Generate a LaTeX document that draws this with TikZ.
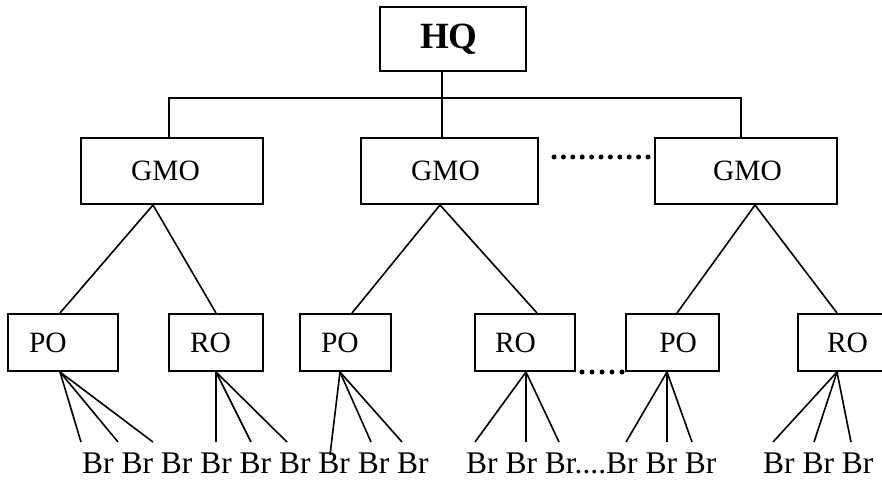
\documentclass[tikz,border=0pt]{standalone}
\usepackage{fontspec}
\setmainfont{Liberation Serif}
\usepackage{tikz}
\usetikzlibrary{positioning}
\tikzset{
  office/.style={rectangle, draw, line width=2pt, align=left, inner xsep=21pt,
    minimum height=57pt, font=\fontsize{29.5}{34}\selectfont},
  gmo/.style={office, minimum height=66pt, inner xsep=50pt},
  link/.style={draw, line width=1.6pt},
  dotrow/.style={line width=5pt, line cap=round, dash pattern=on 0pt off #1},
  brrow/.style={anchor=base west, inner sep=0pt, font=\fontsize{31.5}{36}\selectfont}
}

\begin{document}
\begin{tikzpicture}[x=1pt,y=-1pt]
    \useasboundingbox (0,0) rectangle (882,483);
    % Place nodes
    \node[office, minimum height=64pt, inner xsep=40pt, text width=66pt,
      font=\fontsize{37}{44}\selectfont\bfseries] (hq) at (453,39) {HQ};

    \node[gmo, text width=82pt] (gmoA) at (172,171) {GMO};
    \node[gmo, text width=77pt] (gmoB) at (449.5,171) {GMO};
    \node[gmo, inner xsep=58pt, text width=66pt] (gmoC) at (746,171) {GMO};

    \node[office, text width=68pt] (poA) at (63,342.5) {PO};
    \node[office, text width=52pt] (roA) at (216,342.5) {RO};
    \node[office, text width=49pt] (poB) at (345.5,342.5) {PO};
    \node[office, inner xsep=20pt, text width=60pt] (roB) at (525,342.5) {RO};
    \node[office, align=right, inner xsep=22pt, text width=49pt] (poC) at (672.5,342.5) {PO};
    \node[office, inner xsep=29pt, text width=42pt] (roC) at (848,342.5) {RO};

    \node[brrow] (brRowA) at (82,473) {Br Br Br Br Br Br Br Br Br};
    \node[brrow] (brRowB) at (466,473) {Br Br Br....Br Br Br};
    \node[brrow] (brRowC) at (763,473) {Br Br Br};

    % Draw edges
    \path [link] ([xshift=-11pt]hq.south) -- ([xshift=-11pt]hq.south |- gmoB.north);
    \path [link] ([xshift=-3pt]gmoA.north) -- ++(0,-39) -| ([xshift=-5pt]gmoC.north);

    \path [link] ([xshift=-19pt]gmoA.south) -- ([xshift=-3pt]poA.north);
    \path [link] ([xshift=-19pt]gmoA.south) -- (roA.north);
    \path [link] ([xshift=-9.5pt]gmoB.south) -- ([xshift=6.5pt]poB.north);
    \path [link] ([xshift=-9.5pt]gmoB.south) -- ([xshift=12pt]roB.north);
    \path [link] ([xshift=9pt]gmoC.south) -- ([xshift=4.5pt]poC.north);
    \path [link] ([xshift=9pt]gmoC.south) -- ([xshift=-11pt]roC.north);

    \foreach \o/\dx/\ends in {poA/-3/{81/442,118/442,153/442},
                              roA/0/{216/442,251/442,287/442},
                              poB/-5.5/{330/455,371/442,402/442},
                              roB/1/{475/442,526/442,559/442},
                              poC/-5.5/{626/442,667/442,692/442},
                              roC/-11/{773/442,814/442,851/442}}
      \foreach \x/\y [count=\i] in \ends {
        \coordinate (\o-br\i) at (\x,\y);
        \path [link] ([xshift=\dx pt]\o.south) -- (\o-br\i);
      };

    % the dotted gaps
    \draw[dotrow=9.4pt, shorten <=15pt, shorten >=5pt]
      ([yshift=14pt]gmoB.east) -- ([yshift=14pt]gmoC.west);
    \draw[dotrow=10pt, shorten <=6pt] (roB.south east) -- (poC.south west);
\end{tikzpicture}
\end{document}
